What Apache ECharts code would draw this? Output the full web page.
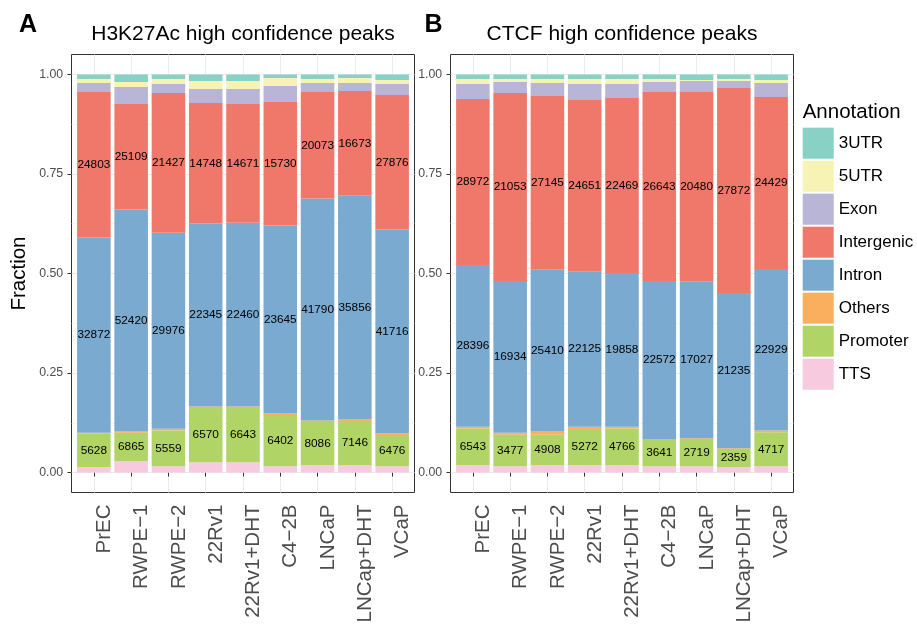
<!DOCTYPE html>
<html><head><meta charset="utf-8">
<script src="https://cdn.jsdelivr.net/npm/echarts@6/dist/echarts.min.js"></script>
<style>html,body{margin:0;padding:0;background:#fff}#c{width:917px;height:625px}</style>
</head><body><div id="c"></div>
<script>
const cellLines = ['PrEC','RWPE\u22121','RWPE\u22122','22Rv1','22Rv1+DHT','C4\u22122B','LNCaP','LNCap+DHT','VCaP'];
const annotations = ['3UTR','5UTR','Exon','Intergenic','Intron','Others','Promoter','TTS'];
const panelTitles = ['H3K27Ac high confidence peaks','CTCF high confidence peaks'];
const panelLetters = ['A','B'];
const yTicks = [0, 0.25, 0.5, 0.75, 1];
const yMinor = [0.125, 0.375, 0.625, 0.875];
const xPositions = [1,2,3,4,5,6,7,8,9];

// Panel A: H3K27Ac fractions
const h3_3UTR       = [0.0117,0.0192,0.0117,0.0167,0.0167,0.0092,0.0117,0.0092,0.0142];
const h3_5UTR       = [0.0100,0.0125,0.0125,0.0200,0.0200,0.0200,0.0100,0.0125,0.0100];
const h3_Exon       = [0.0225,0.0426,0.0225,0.0351,0.0376,0.0401,0.0225,0.0200,0.0276];
const h3_Intergenic = [0.3651,0.2650,0.3509,0.3026,0.2984,0.3101,0.2674,0.2633,0.3376];
const h3_Intron     = [0.4904,0.5572,0.4921,0.4594,0.4611,0.4720,0.5572,0.5614,0.5121];
const h3_Others     = [0.0025,0.0033,0.0042,0.0042,0.0042,0.0042,0.0042,0.0042,0.0042];
const h3_Promoter   = [0.0836,0.0719,0.0902,0.1362,0.1362,0.1286,0.1086,0.1111,0.0785];
const h3_TTS        = [0.0141,0.0283,0.0158,0.0258,0.0258,0.0158,0.0183,0.0183,0.0158];
// Panel A counts printed on segments
const h3_cnt_Intergenic = [24803,25109,21427,14748,14671,15730,20073,16673,27876];
const h3_cnt_Intron     = [32872,52420,29976,22345,22460,23645,41790,35856,41716];
const h3_cnt_Promoter   = [5628,6865,5559,6570,6643,6402,8086,7146,6476];

// Panel B: CTCF fractions
const ct_3UTR       = [0.0117,0.0117,0.0117,0.0117,0.0117,0.0117,0.0142,0.0117,0.0142];
const ct_5UTR       = [0.0125,0.0075,0.0100,0.0125,0.0125,0.0075,0.0025,0.0050,0.0075];
const ct_Exon       = [0.0376,0.0276,0.0326,0.0401,0.0351,0.0251,0.0276,0.0175,0.0351];
const ct_Intergenic = [0.4170,0.4721,0.4362,0.4312,0.4395,0.4746,0.4762,0.5147,0.4320];
const ct_Intron     = [0.4060,0.3809,0.4060,0.3893,0.3860,0.3968,0.3935,0.3901,0.4052];
const ct_Others     = [0.0042,0.0050,0.0083,0.0058,0.0042,0.0025,0.0042,0.0017,0.0050];
const ct_Promoter   = [0.0927,0.0794,0.0769,0.0911,0.0927,0.0660,0.0660,0.0460,0.0852];
const ct_TTS        = [0.0183,0.0158,0.0183,0.0183,0.0183,0.0158,0.0158,0.0133,0.0158];
// Panel B counts
const ct_cnt_Intergenic = [28972,21053,27145,24651,22469,26643,20480,27872,24429];
const ct_cnt_Intron     = [28396,16934,25410,22125,19858,22572,17027,21235,22929];
const ct_cnt_Promoter   = [6543,3477,4908,5272,4766,3641,2719,2359,4717];

const colors = {
  '3UTR':'#88D1C4','5UTR':'#F7F3B4','Exon':'#B8B5D7','Intergenic':'#F0786A',
  'Intron':'#7AAACF','Others':'#F9AF5D','Promoter':'#B1D466','TTS':'#F7CADF'
};

const panels = [
  {frac:{'3UTR':h3_3UTR,'5UTR':h3_5UTR,'Exon':h3_Exon,'Intergenic':h3_Intergenic,'Intron':h3_Intron,'Others':h3_Others,'Promoter':h3_Promoter,'TTS':h3_TTS},
   cnt:{'Intergenic':h3_cnt_Intergenic,'Intron':h3_cnt_Intron,'Promoter':h3_cnt_Promoter}},
  {frac:{'3UTR':ct_3UTR,'5UTR':ct_5UTR,'Exon':ct_Exon,'Intergenic':ct_Intergenic,'Intron':ct_Intron,'Others':ct_Others,'Promoter':ct_Promoter,'TTS':ct_TTS},
   cnt:{'Intergenic':ct_cnt_Intergenic,'Intron':ct_cnt_Intron,'Promoter':ct_cnt_Promoter}}
];

const FONT = 'Liberation Sans, Arial, Helvetica, sans-serif';
const gridLefts = [71.5, 450.5];
const gridW = 343, gridTop = 54.5, gridH = 438;
const bandW = gridW / 9.2;
const pad = bandW * 0.1; // ggplot expands discrete axis by 0.6 band instead of 0.5

const grids = [], xAxes = [], yAxes = [], series = [];
panels.forEach((p, pi) => {
  grids.push({left: gridLefts[pi], top: gridTop, width: gridW, height: gridH,
    show: true, borderColor: '#333333', borderWidth: 1, backgroundColor: '#fff',
    containLabel: false, outerBoundsMode: 'none'});
  grids.push({left: gridLefts[pi] + pad, top: gridTop, width: gridW - 2 * pad, height: gridH,
    show: false, containLabel: false, outerBoundsMode: 'none'});
  const gF = pi * 2, gD = pi * 2 + 1;
  xAxes.push({type: 'value', gridIndex: gF, min: 0.4, max: 9.6,
    axisLine: {show: false},
    axisTick: {show: true, length: 4, lineStyle: {color: '#333333'}, customValues: xPositions},
    axisLabel: {customValues: xPositions, formatter: v => cellLines[Math.round(v) - 1],
      rotate: 90, verticalAlign: 'top', color: '#4d4d4d', fontSize: 20.5, fontFamily: FONT, margin: 12},
    splitLine: {show: true, lineStyle: {color: '#ebebeb', width: 1}}});
  xAxes.push({type: 'category', gridIndex: gD, data: cellLines, boundaryGap: true,
    axisLine: {show: false}, axisTick: {show: false}, axisLabel: {show: false}, splitLine: {show: false}});
  yAxes.push({type: 'value', gridIndex: gF, min: -0.05, max: 1.05,
    name: pi === 0 ? 'Fraction' : '', nameLocation: 'middle', nameGap: 42,
    nameTextStyle: {fontSize: 20.5, color: '#000', fontFamily: FONT},
    axisLine: {show: false},
    axisTick: {show: true, length: 4, lineStyle: {color: '#333333'}, customValues: yTicks},
    axisLabel: {customValues: yTicks, formatter: v => v.toFixed(2), color: '#4d4d4d', fontSize: 12.3, fontFamily: FONT, margin: 8.4},
    splitLine: {show: true, lineStyle: {color: '#ebebeb', width: 1}}});
  yAxes.push({type: 'value', gridIndex: gF, min: -0.05, max: 1.05, position: 'left',
    axisLine: {show: false},
    axisTick: {show: false, customValues: yMinor},
    axisLabel: {show: false},
    splitLine: {show: true, lineStyle: {color: '#f0f0f0', width: 0.6}}});
  yAxes.push({type: 'value', gridIndex: gD, min: -0.05, max: 1.05,
    axisLine: {show: false}, axisTick: {show: false}, axisLabel: {show: false}, splitLine: {show: false}});
  const order = ['TTS','Promoter','Others','Intron','Intergenic','Exon','5UTR','3UTR'];
  order.forEach(name => {
    const vals = p.frac[name];
    const cnt = p.cnt[name];
    series.push({
      type: 'bar', name: name, stack: 'p' + pi,
      xAxisIndex: pi * 2 + 1, yAxisIndex: pi * 3 + 2,
      barWidth: '90%',
      itemStyle: {color: colors[name]},
      data: vals.slice(),
      label: cnt ? {show: true, position: 'inside', color: '#000', fontSize: 11.8, fontFamily: FONT,
        textBorderWidth: 0, formatter: prm => String(cnt[prm.dataIndex])} : {show: false},
      emphasis: {disabled: true},
      z: 3
    });
  });
});

const graphics = [
  {type: 'text', x: 19, y: 25.5, style: {text: panelLetters[0], fontSize: 25, fontWeight: 'bold', fontFamily: FONT, fill: '#000', align: 'left', verticalAlign: 'middle'}},
  {type: 'text', x: 424.5, y: 25.5, style: {text: panelLetters[1], fontSize: 25, fontWeight: 'bold', fontFamily: FONT, fill: '#000', align: 'left', verticalAlign: 'middle'}},
  {type: 'text', x: gridLefts[0] + gridW / 2, y: 33.8, style: {text: panelTitles[0], fontSize: 21, fontFamily: FONT, fill: '#000', align: 'center', verticalAlign: 'middle'}},
  {type: 'text', x: gridLefts[1] + gridW / 2, y: 33.8, style: {text: panelTitles[1], fontSize: 21, fontFamily: FONT, fill: '#000', align: 'center', verticalAlign: 'middle'}},
  {type: 'text', x: 802.7, y: 112.2, style: {text: 'Annotation', fontSize: 20.5, fontFamily: FONT, fill: '#000', align: 'left', verticalAlign: 'middle'}}
];

const chart = echarts.init(document.getElementById('c'), null, {renderer: 'canvas'});
chart.setOption({
  animation: false,
  backgroundColor: '#ffffff',
  textStyle: {fontFamily: FONT},
  grid: grids, xAxis: xAxes, yAxis: yAxes, series: series,
  legend: {data: annotations, orient: 'vertical', left: 802.7, top: 127.7, padding: 0,
    itemWidth: 31, itemHeight: 31, itemGap: 2, icon: 'rect', selectedMode: false,
    textStyle: {fontSize: 17, color: '#000', fontFamily: FONT}},
  graphic: graphics
});
</script></body></html>
